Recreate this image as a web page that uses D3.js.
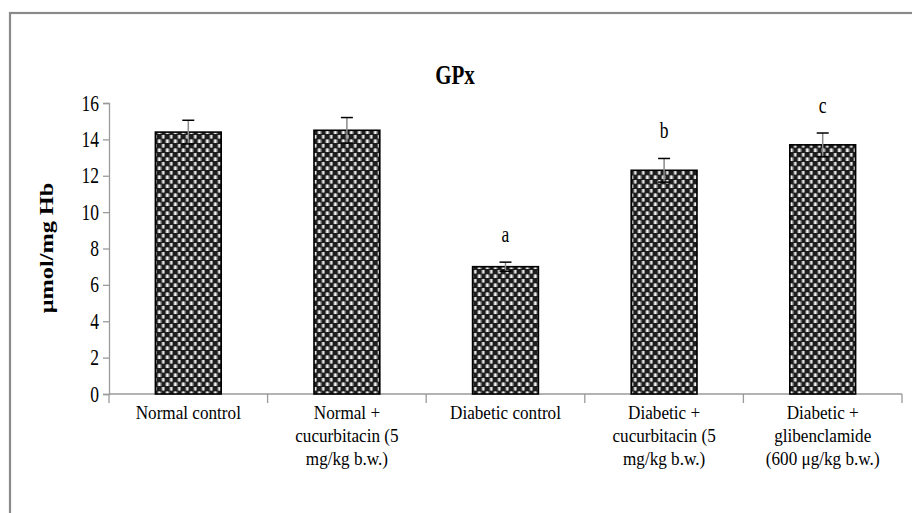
<!DOCTYPE html>
<html><head><meta charset="utf-8">
<script src="https://cdn.jsdelivr.net/npm/d3@7"></script>
<style>body{margin:0;background:#fff;} svg{display:block;} text{font-family:"Liberation Serif","Times New Roman",serif;fill:#000;}</style>
</head><body>
<svg id="c" width="912" height="513"></svg>
<script>
const categories = [
  ["Normal control"],
  ["Normal +", "cucurbitacin (5", "mg/kg b.w.)"],
  ["Diabetic control"],
  ["Diabetic +", "cucurbitacin (5", "mg/kg b.w.)"],
  ["Diabetic +", "glibenclamide", "(600 μg/kg b.w.)"]
];
const means = [14.4, 14.5, 7.0, 12.3, 13.7];
const errors = [0.65, 0.7, 0.25, 0.65, 0.65];
const letters = ["", "", "a", "b", "c"];
const yTicks = [0, 2, 4, 6, 8, 10, 12, 14, 16];
const title = "GPx";
const yLabel = "μmol/mg Hb";

const svg = d3.select("#c");
const K = 1.35;   // vertical stretch of single-line text
const KL = 1.13;  // vertical stretch of wrapped category labels
const margin = {left: 109, top: 103};
const plotW = 902 - 109, plotH = 394 - 103;

// frame
svg.append("rect").attr("x", 10).attr("y", 13).attr("width", 930).attr("height", 540)
  .attr("fill", "none").attr("stroke", "#8a8a8a").attr("stroke-width", 2.2);

// pattern
const defs = svg.append("defs");
const pat = defs.append("pattern").attr("id", "pat").attr("patternUnits", "userSpaceOnUse")
  .attr("width", 8).attr("height", 9);
pat.append("rect").attr("width", 8).attr("height", 9).attr("fill", "#1e1e1e");
pat.append("rect").attr("x", 0.5).attr("y", 0.5).attr("width", 4).attr("height", 3.5).attr("fill", "#a8a8a8");
pat.append("rect").attr("x", 4.5).attr("y", 5).attr("width", 4).attr("height", 3.5).attr("fill", "#8c8c8c");
pat.append("rect").attr("x", 1.5).attr("y", 0.5).attr("width", 1.5).attr("height", 3.5).attr("fill", "#f2f2f2");
pat.append("rect").attr("x", 5.5).attr("y", 5).attr("width", 1.5).attr("height", 3.5).attr("fill", "#e6e6e6");

const g = svg.append("g").attr("transform", `translate(${margin.left},${margin.top})`);
const x = d3.scaleBand().domain(d3.range(categories.length)).range([0, plotW]).paddingInner(0.585).paddingOuter(0.2925);
const y = d3.scaleLinear().domain([0, 16]).range([plotH, 0]);

// y axis
const ya = g.append("g").call(d3.axisLeft(y).tickValues(yTicks).tickSize(6).tickFormat(d3.format("d")));
ya.select(".domain").attr("stroke", "#9a9a9a").attr("stroke-width", 1.3);
ya.selectAll(".tick line").attr("stroke", "#9a9a9a").attr("stroke-width", 1.3);
ya.selectAll(".tick text").each(function(d) {
  const t = d3.select(this);
  t.attr("x", null).attr("dy", null).attr("text-anchor", "end")
    .attr("transform", `translate(-10,7) scale(1,${K})`)
    .style("font-size", "17.5px").style("font-family", "Liberation Serif");
});

// x axis
const xa = g.append("g").attr("transform", `translate(0,${plotH})`);
xa.append("line").attr("x1", 0).attr("x2", plotW).attr("stroke", "#9a9a9a").attr("stroke-width", 1.5);
const step = plotW / categories.length;
d3.range(categories.length + 1).forEach(i => {
  xa.append("line").attr("x1", i * step).attr("x2", i * step).attr("y1", 0).attr("y2", 9)
    .attr("stroke", "#9a9a9a").attr("stroke-width", 1.3);
});
categories.forEach((lines, i) => {
  lines.forEach((ln, j) => {
    xa.append("text").attr("text-anchor", "middle")
      .attr("transform", `translate(${x(i) + x.bandwidth() / 2},${25 + j * 23}) scale(0.98,${KL})`)
      .style("font-size", "17.5px").text(ln);
  });
});

// bars
g.selectAll(".bar").data(means).enter().append("rect")
  .attr("x", (d, i) => x(i)).attr("y", d => y(d))
  .attr("width", x.bandwidth()).attr("height", d => plotH - y(d))
  .attr("fill", "url(#pat)").attr("stroke", "#000").attr("stroke-width", 1.6);

// error bars
means.forEach((m, i) => {
  const cx = x(i) + x.bandwidth() / 2;
  g.append("line").attr("x1", cx).attr("x2", cx).attr("y1", y(m - errors[i])).attr("y2", y(m + errors[i]))
    .attr("stroke", "#8a8a8a").attr("stroke-width", 1.5);
  [m + errors[i], m - errors[i]].forEach(v => {
    g.append("line").attr("x1", cx - 6).attr("x2", cx + 6).attr("y1", y(v)).attr("y2", y(v))
      .attr("stroke", "#000").attr("stroke-width", 1.5);
  });
  if (letters[i]) {
    g.append("text").attr("text-anchor", "middle")
      .attr("transform", `translate(${cx},${y(m + errors[i]) - 20}) scale(1,${K})`)
      .style("font-size", "17.5px").text(letters[i]);
  }
});

// title
svg.append("text").attr("text-anchor", "middle")
  .attr("transform", `translate(455,84) scale(1,${K})`)
  .style("font-size", "21px").style("font-weight", "bold").text(title);

// y label
svg.append("text").attr("text-anchor", "middle")
  .attr("transform", `translate(53,248) rotate(-90) scale(${K},1)`)
  .style("font-size", "18px").style("font-weight", "bold").text(yLabel);
</script>
</body></html>
